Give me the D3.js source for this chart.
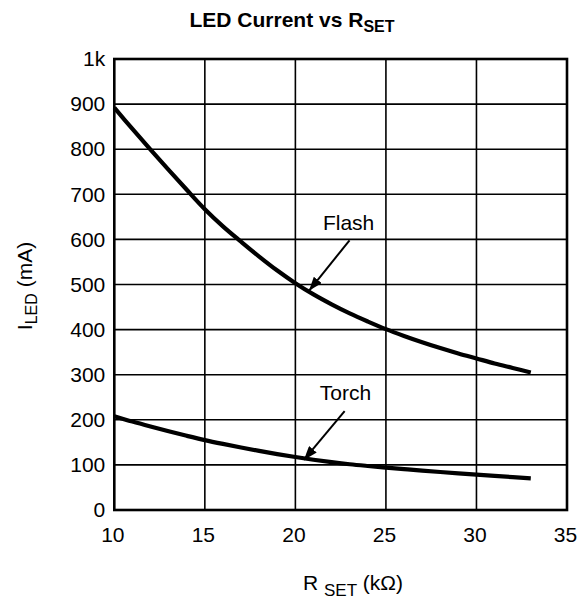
<!DOCTYPE html>
<html>
<head>
<meta charset="utf-8">
<script src="https://cdn.jsdelivr.net/npm/d3@7"></script>
<style>
  html, body { margin: 0; padding: 0; background: #fff; }
  svg { display: block; font-family: "Liberation Sans", Arial, Helvetica, sans-serif; }
</style>
</head>
<body>
<svg id="chart" width="584" height="599"></svg>
<script>
// ---- data ----
const rset = [10, 11, 12, 13, 14, 15, 16, 17, 18, 19, 20, 21, 22, 23, 24, 25, 26, 27, 28, 29, 30, 31, 32, 33];
const flash = [892, 845, 799, 754, 710, 667, 629, 595, 562, 531, 503, 478, 456, 436, 418, 401, 386, 372, 359, 347, 336, 325, 315, 305];
const torch = [208, 196, 185, 174.5, 164.5, 155, 146.5, 138.5, 131, 124, 117.5, 111.5, 106.2, 101.5, 97.6, 94, 90.6, 87.4, 84.3, 81.3, 78.4, 75.6, 72.9, 70.3];
const xTicks = [10, 15, 20, 25, 30, 35];
const yTicks = [0, 100, 200, 300, 400, 500, 600, 700, 800, 900, 1000];
const yTickLabels = ["0", "100", "200", "300", "400", "500", "600", "700", "800", "900", "1k"];
// annotations: label position and arrow [from, to] in data units
const annotations = [
  { label: "Flash", text: [22.94, 620], from: [22.99, 598], to: [20.75, 486] },
  { label: "Torch", text: [22.77, 243], from: [22.72, 219], to: [20.47, 111] }
];

(function () {
  const svg = d3.select("#chart");
  const pL = 114.3, pR = 567, pT = 59, pB = 510;
  const x = d3.scaleLinear().domain([10, 35]).range([pL, pR]);
  const y = d3.scaleLinear().domain([0, 1000]).range([pB, pT]);

  // grid
  svg.append("g").selectAll("line").data(xTicks.slice(1, -1)).join("line")
    .attr("x1", d => x(d)).attr("x2", d => x(d))
    .attr("y1", pT).attr("y2", pB)
    .attr("stroke", "#000").attr("stroke-width", 1.6);
  svg.append("g").selectAll("line").data(yTicks.slice(1, -1)).join("line")
    .attr("y1", d => y(d)).attr("y2", d => y(d))
    .attr("x1", pL).attr("x2", pR)
    .attr("stroke", "#000").attr("stroke-width", 1.6);

  // frame
  svg.append("rect")
    .attr("x", pL).attr("y", pT)
    .attr("width", pR - pL).attr("height", pB - pT)
    .attr("fill", "none").attr("stroke", "#000").attr("stroke-width", 2.6);

  // axes (labels only)
  const yAxis = d3.axisLeft(y).tickValues(yTicks).tickSize(0).tickPadding(9)
    .tickFormat((d, i) => yTickLabels[i]);
  svg.append("g").attr("transform", `translate(${pL},0)`).call(yAxis)
    .call(g => g.select(".domain").remove())
    .selectAll("text").attr("font-size", 21).attr("fill", "#000")
    .attr("font-family", "Liberation Sans, Arial, sans-serif");

  const xAxis = d3.axisBottom(x).tickValues(xTicks).tickSize(0).tickPadding(17)
    .tickFormat(d3.format("d"));
  svg.append("g").attr("transform", `translate(-2,${pB})`).call(xAxis)
    .call(g => g.select(".domain").remove())
    .selectAll("text").attr("font-size", 21).attr("fill", "#000")
    .attr("font-family", "Liberation Sans, Arial, sans-serif");

  // curves
  const line = d3.line().x(d => x(d[0])).y(d => y(d[1])).curve(d3.curveCatmullRom);
  [flash, torch].forEach(series => {
    svg.append("path")
      .attr("d", line(rset.map((r, i) => [r, series[i]])))
      .attr("fill", "none").attr("stroke", "#000")
      .attr("stroke-width", 4.2).attr("stroke-linecap", "butt");
  });

  // arrow marker
  svg.append("defs").append("marker")
    .attr("id", "arrow").attr("viewBox", "0 0 14 10")
    .attr("refX", 14).attr("refY", 5)
    .attr("markerWidth", 14).attr("markerHeight", 10)
    .attr("markerUnits", "userSpaceOnUse")
    .attr("orient", "auto")
    .append("path").attr("d", "M0,0 L14,5 L0,10 Z").attr("fill", "#000");

  annotations.forEach(a => {
    svg.append("text")
      .attr("x", x(a.text[0])).attr("y", y(a.text[1]))
      .attr("text-anchor", "middle").attr("font-size", 21).attr("fill", "#000")
      .text(a.label);
    svg.append("line")
      .attr("x1", x(a.from[0])).attr("y1", y(a.from[1]))
      .attr("x2", x(a.to[0])).attr("y2", y(a.to[1]))
      .attr("stroke", "#000").attr("stroke-width", 2)
      .attr("marker-end", "url(#arrow)");
  });

  // title
  const title = svg.append("text").attr("x", 292).attr("y", 27)
    .attr("text-anchor", "middle").attr("font-weight", "bold").attr("font-size", 21);
  title.append("tspan").text("LED Current vs R");
  title.append("tspan").attr("dy", 5).attr("font-size", 16).text("SET");

  // y axis title
  const yt = svg.append("text")
    .attr("transform", "translate(32,286) rotate(-90)")
    .attr("text-anchor", "middle").attr("font-size", 21);
  yt.append("tspan").text("I");
  yt.append("tspan").attr("dy", 5).attr("font-size", 16).text("LED");
  yt.append("tspan").attr("dy", -5).text(" (mA)");

  // x axis title
  const xt = svg.append("text").attr("x", 353).attr("y", 590)
    .attr("text-anchor", "middle").attr("font-size", 21);
  xt.append("tspan").text("R ");
  xt.append("tspan").attr("dy", 6).attr("font-size", 17).text("SET");
  xt.append("tspan").attr("dy", -6).text(" (k\u03A9)");
})();
</script>
</body>
</html>
